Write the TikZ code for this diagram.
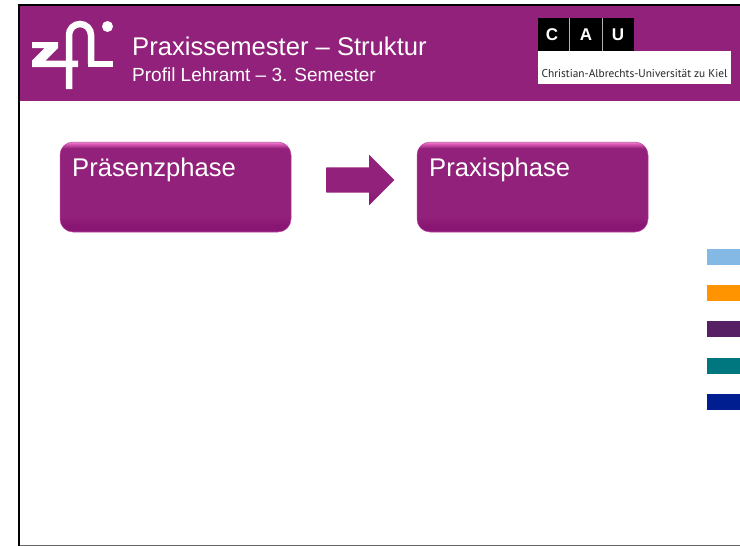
\documentclass[tikz,border=0pt]{standalone}
\usepackage{fontspec}
\setmainfont{Liberation Sans}
\newfontfamily\caufont{PT Sans}
\usetikzlibrary{shapes.arrows}
\definecolor{zfipurple}{HTML}{91217A}
\definecolor{bevellight}{HTML}{DE5CB8}
\definecolor{beveldark}{HTML}{8A1674}
\pgfdeclareverticalshading{boxbevel}{100bp}{
  color(0bp)=(bevellight!50!beveldark);
  color(25bp)=(bevellight!50!beveldark);
  color(25.8bp)=(beveldark);
  color(29bp)=(beveldark);
  color(33bp)=(zfipurple);
  color(71.5bp)=(zfipurple);
  color(74bp)=(bevellight);
  color(75bp)=(bevellight!70!white);
  color(100bp)=(bevellight!70!white)}
\pgfdeclareverticalshading{arrowbevel}{100bp}{
  color(0bp)=(beveldark);
  color(25bp)=(beveldark);
  color(40bp)=(zfipurple);
  color(100bp)=(zfipurple)}

\begin{document}
\begin{tikzpicture}[x=1pt,y=-1pt,node distance={357pt},
  phase/.style={shading=boxbevel,rounded corners=13pt,draw=bevellight!55!zfipurple,line width=0.5pt,minimum width=231pt,minimum height=90pt,inner sep=0pt},
  phasetext/.style={text=white,font=\fontsize{25.6}{25.6}\selectfont,anchor=base west,inner sep=0pt},
  swatch/.style={minimum width=33pt,minimum height=16pt,inner sep=0pt,anchor=north west},
  logo/.style={white,line width=6.5pt},
  caultr/.style={text=white,font=\fontsize{17}{17}\selectfont\bfseries,inner sep=0pt}]
\useasboundingbox (0,0) rectangle (740,546);

% frame and header band
\fill[white] (0,0) rectangle (740,546);
\fill[zfipurple] (20,6) rectangle (740,101);
\draw[black,line width=2.4pt] (19,546) -- (19,5) -- (740,5);
\draw[black!60,line width=1pt] (20,545.5) -- (740,545.5);

% zfi logo
\fill[white] (32,42) -- (58,42) -- (58,48) -- (45.5,60.5) -- (78,60.5) -- (78,67) -- (32,67) -- (32,60.5) -- (44.5,48) -- (32,48) -- cycle;
\draw[logo] (69,89) -- (69,35) arc[start angle=180,end angle=0,radius=11pt] -- (91,63.75);
\draw[logo] (87.75,63.75) -- (113,63.75);
\fill[white] (107.5,26.5) circle[radius=5.5pt];

% titles
\node[text=white,anchor=base west,inner sep=0pt,font=\fontsize{25.6}{25.6}\selectfont] (title) at (132,56) {Praxissemester – Struktur};
\node[text=white,anchor=base west,inner sep=0pt,font=\fontsize{19}{19}\selectfont] (subtitle) at (132,81) {Profil Lehramt – 3. Semester};

% university logo
\fill[black] (538,18) rectangle (634,51);
\fill[white] (538,51) rectangle (731,84);
\draw[black!30,line width=0.5pt] (569,18) -- (569,51);
\draw[black!30,line width=0.5pt] (602,18) -- (602,51);
\node[caultr] (cauc) at (552,35) {C};
\node[caultr] (caua) at (586,35) {A};
\node[caultr] (cauu) at (618,35) {U};
\node[text=black!85,anchor=center,inner sep=0pt,font=\caufont\fontsize{11.35}{12}\selectfont] (cauname) at (634.5,74) {Christian-Albrechts-Universität zu Kiel};

% phases
\node[phase] (1) at (175.5,187) {};
\node[phase] (2) [right of=1] {};
\node[phasetext] (1t) at (72,176) {Präsenzphase};
\node[phasetext] (2t) at (429,176) {Praxisphase};
\node[single arrow,shading=arrowbevel,minimum height=68pt,single arrow head extend=12.5pt,single arrow tip angle=90,inner xsep=0pt,inner ysep=12.5pt] (3) at (354,180) {};

% colour swatches
\node[swatch,fill={rgb,255:red,133;green,185;blue,229}] (s1) at (707,249) {};
\node[swatch,fill={rgb,255:red,255;green,148;blue,0}] (s2) at (707,285) {};
\node[swatch,fill={rgb,255:red,87;green,32;blue,100}] (s3) at (707,321) {};
\node[swatch,fill={rgb,255:red,0;green,119;blue,126}] (s4) at (707,358) {};
\node[swatch,fill={rgb,255:red,0;green,30;blue,143}] (s5) at (707,394) {};
\end{tikzpicture}
\end{document}
